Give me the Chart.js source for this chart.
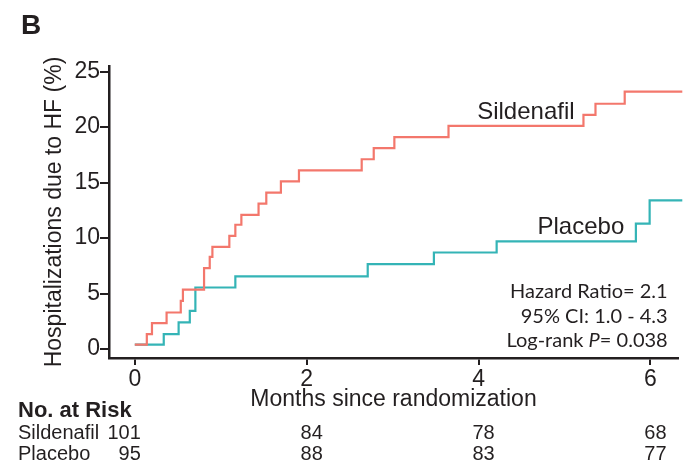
<!DOCTYPE html>
<html>
<head>
<meta charset="utf-8">
<script src="https://cdn.jsdelivr.net/npm/chart.js@4"></script>
<style>
  html, body { margin: 0; padding: 0; background: #fff; }
  #wrap { width: 693px; height: 471px; position: relative; }
</style>
</head>
<body>
<div id="wrap"><canvas id="kmChart" width="693" height="471"></canvas></div>
<script>
// Cumulative HF hospitalization (%) - step points [month, value after step]
const sildenafilTimes = [0, 0.14, 0.20, 0.37, 0.535, 0.56, 0.806, 0.872, 0.903, 1.10, 1.17, 1.24, 1.44, 1.53, 1.70, 1.91, 2.64, 2.78, 3.02, 3.65, 5.22, 5.36, 5.70, 6.37];
const sildenafilValues = [0.4, 1.35, 2.35, 3.3, 4.35, 5.35, 7.3, 8.3, 9.2, 10.2, 11.2, 12.1, 13.1, 14.1, 15.1, 16.1, 17.1, 18.1, 19.1, 20.1, 21.1, 22.1, 23.2, 23.2];

const placeboTimes = [0, 0.337, 0.51, 0.64, 0.705, 1.17, 2.71, 3.48, 4.21, 5.83, 5.99, 6.37];
const placeboValues = [0.4, 1.35, 2.4, 3.45, 5.55, 6.55, 7.66, 8.7, 9.7, 11.3, 13.4, 13.4];

const xTicks = [0, 2, 4, 6];
const yTicks = [0, 5, 10, 15, 20, 25];

// number at risk table
const riskMonths = [0, 2, 4, 6];
const riskSildenafil = [101, 84, 78, 68];
const riskPlacebo = [95, 88, 83, 77];

const statsLines = ['Hazard Ratio= 2.1', '95% CI: 1.0 - 4.3', 'Log-rank P= 0.038'];

const RED = '#f3776c';
const TEAL = '#34b4b6';
const INK = '#231f20';
const AXIS_FONT = '"Liberation Sans", Arial, sans-serif';

function toPoints(xs, ys) {
    return xs.map((x, i) => ({ x: x, y: ys[i] }));
}

const overlayPlugin = {
    id: 'overlay',
    afterDraw(chart) {
        const ctx = chart.ctx;
        const xs = chart.scales.x;
        const ys = chart.scales.y;
        const area = chart.chartArea;
        ctx.save();
        ctx.fillStyle = INK;
        ctx.textBaseline = 'middle';

        // panel letter
        ctx.font = 'bold 28px ' + AXIS_FONT;
        ctx.textAlign = 'left';
        ctx.fillText('B', 21, 26);

        // curve labels
        ctx.font = '24px ' + AXIS_FONT;
        ctx.textAlign = 'center';
        ctx.fillText('Sildenafil', xs.getPixelForValue(4.55), ys.getPixelForValue(21.3));
        ctx.fillText('Placebo', xs.getPixelForValue(5.19), ys.getPixelForValue(11.0));

        // stats block, right aligned
        const rx = xs.getPixelForValue(6.2);
        const offsets = [66, 41, 17];
        ctx.font = '20px Lato, sans-serif';
        ctx.textAlign = 'right';
        ctx.fillText(statsLines[0], rx, area.bottom - offsets[0]);
        ctx.fillText(statsLines[1], rx, area.bottom - offsets[1]);
        // Log-rank line with italic P
        const ly = area.bottom - offsets[2];
        const tail = '= 0.038';
        ctx.fillText(tail, rx, ly);
        let cx = rx - ctx.measureText(tail).width;
        ctx.font = 'italic 20px Lato, sans-serif';
        ctx.fillText('P', cx, ly);
        cx -= ctx.measureText('P').width;
        ctx.font = '20px Lato, sans-serif';
        ctx.fillText('Log-rank ', cx, ly);

        // number at risk
        ctx.textAlign = 'left';
        ctx.font = 'bold 22px "Liberation Sans Narrow", ' + AXIS_FONT;
        ctx.fillText('No. at Risk', 18, 411);
        ctx.font = '20px "Liberation Sans Narrow", ' + AXIS_FONT;
        ctx.fillText('Sildenafil', 18, 433);
        ctx.fillText('Placebo', 18, 454);
        riskMonths.forEach((m, i) => {
            const px = xs.getPixelForValue(m);
            if (i === 0) {
                ctx.textAlign = 'right';
                ctx.fillText(String(riskSildenafil[i]), px + 6, 433);
                ctx.fillText(String(riskPlacebo[i]), px + 6, 454);
            } else {
                ctx.textAlign = 'center';
                ctx.fillText(String(riskSildenafil[i]), px + 5, 433);
                ctx.fillText(String(riskPlacebo[i]), px + 5, 454);
            }
        });
        ctx.restore();
    }
};

new Chart(document.getElementById('kmChart'), {
    type: 'line',
    data: {
        datasets: [
            {
                label: 'Sildenafil',
                data: toPoints(sildenafilTimes, sildenafilValues),
                borderColor: RED,
                borderWidth: 2.2,
                stepped: true,
                pointRadius: 0,
                fill: false,
                clip: false
            },
            {
                label: 'Placebo',
                data: toPoints(placeboTimes, placeboValues),
                borderColor: TEAL,
                borderWidth: 2.2,
                stepped: true,
                pointRadius: 0,
                fill: false,
                clip: false
            }
        ]
    },
    options: {
        responsive: false,
        animation: false,
        layout: { padding: { left: 0, right: 15, top: 66, bottom: 58 } },
        plugins: {
            legend: { display: false },
            tooltip: { enabled: false }
        },
        scales: {
            x: {
                type: 'linear',
                min: -0.3,
                max: 6.32,
                afterBuildTicks: (scale) => { scale.ticks = xTicks.map(v => ({ value: v })); },
                afterFit: (scale) => { scale.height = 55; },
                border: { display: true, color: INK, width: 2.5 },
                grid: { drawOnChartArea: false, drawTicks: true, tickLength: 7, color: INK, lineWidth: 2 },
                ticks: { color: INK, padding: 1, maxRotation: 0, font: { family: AXIS_FONT, size: 23 } },
                title: {
                    display: true,
                    text: 'Months since randomization',
                    color: INK,
                    padding: 0,
                    font: { family: AXIS_FONT, size: 23 }
                }
            },
            y: {
                type: 'linear',
                min: -0.8,
                max: 25.5,
                afterBuildTicks: (scale) => { scale.ticks = yTicks.map(v => ({ value: v })); },
                afterFit: (scale) => { scale.width = 109; },
                border: { display: true, color: INK, width: 2.5 },
                grid: { drawOnChartArea: false, drawTicks: true, tickLength: 9, color: INK, lineWidth: 2 },
                ticks: { color: INK, padding: 0, font: { family: AXIS_FONT, size: 23 } },
                title: {
                    display: true,
                    text: 'Hospitalizations due to HF (%)',
                    color: INK,
                    padding: { top: 41, bottom: 0 },
                    font: { family: AXIS_FONT, size: 23 }
                }
            }
        }
    },
    plugins: [overlayPlugin]
});
</script>
</body>
</html>
